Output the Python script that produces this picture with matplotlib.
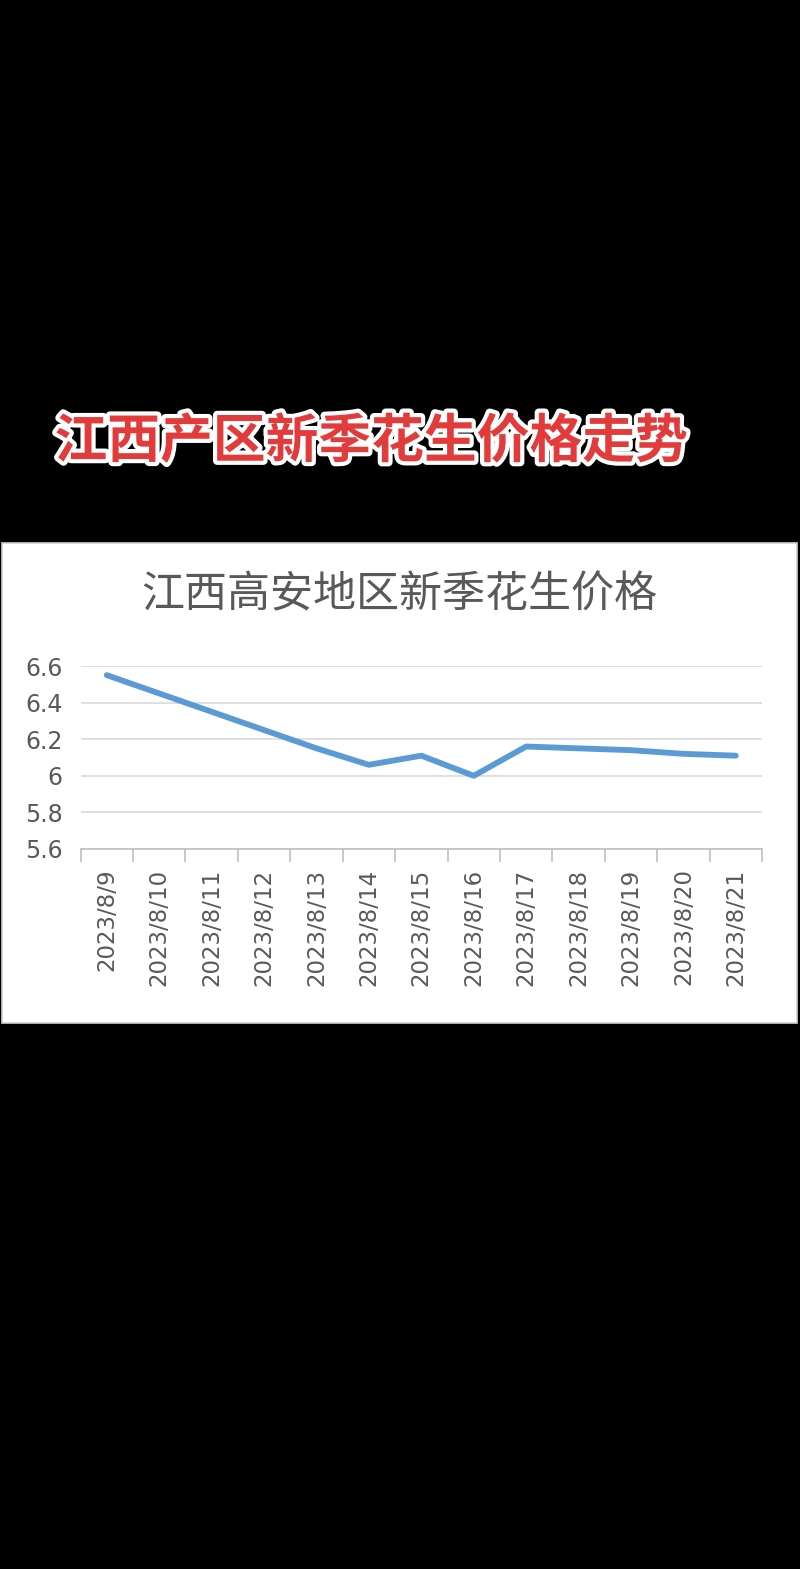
import matplotlib
matplotlib.use("Agg")
import matplotlib.pyplot as plt
import matplotlib.patheffects as pe
from matplotlib.patches import Rectangle

# data
dates = ["2023/8/9", "2023/8/10", "2023/8/11", "2023/8/12", "2023/8/13",
         "2023/8/14", "2023/8/15", "2023/8/16", "2023/8/17", "2023/8/18",
         "2023/8/19", "2023/8/20", "2023/8/21"]
prices = [6.55, 6.45, 6.35, 6.25, 6.15, 6.06, 6.11, 6.00, 6.16, 6.15,
          6.14, 6.12, 6.11]
yticks = [5.6, 5.8, 6.0, 6.2, 6.4, 6.6]
ytick_labels = ["5.6", "5.8", "6", "6.2", "6.4", "6.6"]

heading = "江西产区新季花生价格走势"
chart_title = "江西高安地区新季花生价格"

W, H = 800, 1569
CJK = ["Noto Sans CJK SC", "DejaVu Sans"]

fig = plt.figure(figsize=(W / 100, H / 100), dpi=100, facecolor="black")

def fx(px):
    return px / W

def fy(py):
    return 1 - py / H

# white chart panel (behind the axes)
fig.patches.append(Rectangle((fx(2), fy(1023)), fx(795), (1023 - 543) / H,
                             transform=fig.transFigure, facecolor="white",
                             edgecolor="#d0d0d0", lw=1.2, zorder=-10))

# red heading with white outline
fig.text(fx(371), fy(442), heading, ha="center", va="center", fontsize=38,
         fontweight="heavy", color="#e23b3b", family=CJK,
         path_effects=[pe.withStroke(linewidth=6, foreground="white")])

# chart title
fig.text(fx(399), fy(595), chart_title, ha="center", va="center",
         fontsize=31, color="#595959", family=CJK)

ax = fig.add_axes([fx(80.6), fy(849), fx(762 - 80.6), (849 - 666) / H])
ax.set_facecolor("white")
x = list(range(len(dates)))
ax.plot(x, prices, color="#5b9bd5", lw=4.2, solid_joinstyle="round",
        solid_capstyle="round", clip_on=False, zorder=3)

ax.set_xlim(-0.5, len(dates) - 0.5)
ax.set_ylim(5.6, 6.6)
ax.set_yticks(yticks)
ax.set_yticklabels(ytick_labels)
ax.set_xticks(x)
ax.set_xticklabels(dates, rotation=90, va="top", ha="center")
ax.set_xticks([i - 0.5 for i in range(len(dates) + 1)], minor=True)

ax.grid(axis="y", color="#d9d9d9", lw=1.2, zorder=1)
for s in ["top", "left", "right"]:
    ax.spines[s].set_visible(False)
ax.spines["bottom"].set_color("#bfbfbf")
ax.spines["bottom"].set_linewidth(1.2)

ax.tick_params(axis="y", length=0, pad=13, labelsize=17, labelcolor="#595959")
ax.tick_params(axis="x", which="major", length=0, pad=14, labelsize=16.5,
               labelcolor="#595959")
ax.tick_params(axis="x", which="minor", length=9.5, width=1.2, color="#bfbfbf")

fig.savefig("out.png", dpi=100, facecolor="black")
